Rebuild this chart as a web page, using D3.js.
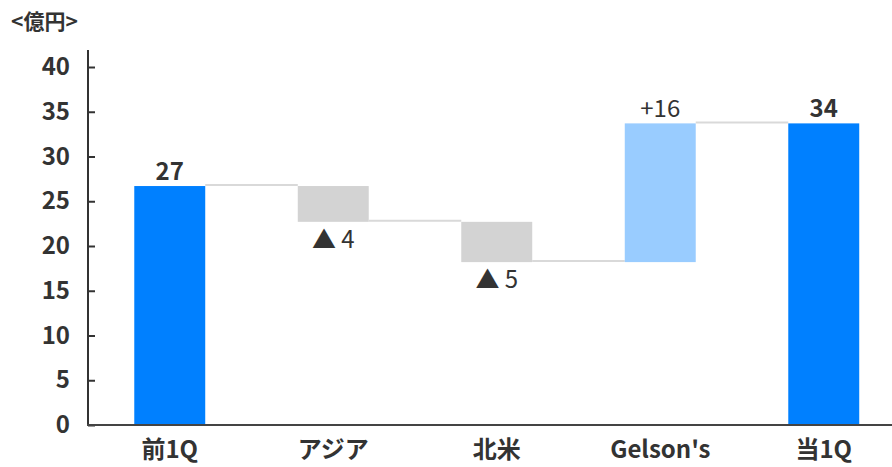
<!DOCTYPE html>
<html>
<head>
<meta charset="utf-8">
<script src="https://cdn.jsdelivr.net/npm/d3@7"></script>
<style>
  body { margin: 0; background: #fff; }
  svg text { font-family: "Noto Sans CJK JP", "Noto Sans", sans-serif; fill: #333; }
</style>
</head>
<body>
<div id="chart"></div>
<script>
// data
const categories = ["前1Q", "アジア", "北米", "Gelson's", "当1Q"];
const kinds = ["total", "delta", "delta", "delta", "total"];
const values = [26.7, -4.0, -4.5, 15.5, 33.7];
const valueLabels = ["27", "▲ 4", "▲ 5", "+16", "34"];
const yTicks = [0, 5, 10, 15, 20, 25, 30, 35, 40];

const width = 892;
const height = 467;

const colors = { total: "#0080ff", up: "#99ccff", down: "#d3d3d3" };

const svg = d3.select("#chart").append("svg")
  .attr("width", width)
  .attr("height", height);

// scales
const x = d3.scaleBand()
  .domain(categories)
  .range([88, 905.5])
  .paddingInner(0.566)
  .paddingOuter(0.283);

const y = d3.scaleLinear().domain([0, 40]).range([425, 67]);

// running totals -> start/end for each bar
let run = 0;
const bars = categories.map((c, i) => {
  let start, end;
  if (kinds[i] === "total") {
    start = 0; end = values[i]; run = values[i];
  } else {
    start = run; end = run + values[i]; run = end;
  }
  return { cat: c, kind: kinds[i], v: values[i], start, end, label: valueLabels[i] };
});

// connectors
for (let i = 0; i < bars.length - 1; i++) {
  const level = bars[i].end;
  svg.append("line")
    .attr("x1", x(bars[i].cat) + x.bandwidth())
    .attr("x2", x(bars[i + 1].cat))
    .attr("y1", y(level) - 1)
    .attr("y2", y(level) - 1)
    .attr("stroke", "#d9d9d9")
    .attr("stroke-width", 2);
}

// bars
svg.selectAll("rect.bar")
  .data(bars)
  .join("rect")
  .attr("class", "bar")
  .attr("x", d => x(d.cat))
  .attr("width", x.bandwidth())
  .attr("y", d => y(Math.max(d.start, d.end)))
  .attr("height", d => Math.abs(y(d.start) - y(d.end)))
  .attr("fill", d => d.kind === "total" ? colors.total : (d.v >= 0 ? colors.up : colors.down));

// value labels
svg.selectAll("text.val")
  .data(bars)
  .join("text")
  .attr("class", "val")
  .attr("x", d => x(d.cat) + x.bandwidth() / 2)
  .attr("y", d => d.v >= 0 ? y(Math.max(d.start, d.end)) - 6 : y(d.end) + 26)
  .attr("text-anchor", "middle")
  .style("font-size", "24px")
  .style("font-weight", d => d.kind === "total" ? "bold" : "normal")
  .text(d => d.label);

// y axis
const yAxis = d3.axisLeft(y)
  .tickValues(yTicks)
  .tickSizeInner(-7)
  .tickSizeOuter(0)
  .tickPadding(18);

const yAxisG = svg.append("g")
  .attr("transform", "translate(88,0)")
  .call(yAxis);
yAxisG.select(".domain").remove();
yAxisG.selectAll(".tick line").attr("stroke", "#333").attr("stroke-width", 2);
yAxisG.selectAll(".tick text")
  .style("font-size", "24px")
  .style("font-weight", "bold")
  .attr("fill", "#333");

svg.append("line")
  .attr("x1", 88).attr("x2", 88)
  .attr("y1", 50).attr("y2", 426)
  .attr("stroke", "#333").attr("stroke-width", 2);

// x axis
const xAxisG = svg.append("g")
  .attr("transform", "translate(0,425)")
  .call(d3.axisBottom(x).tickSize(0).tickPadding(16));
xAxisG.select(".domain").remove();
xAxisG.selectAll(".tick text")
  .style("font-size", "24px")
  .style("font-weight", "bold")
  .attr("fill", "#333");

svg.append("line")
  .attr("x1", 87).attr("x2", width)
  .attr("y1", 425).attr("y2", 425)
  .attr("stroke", "#444").attr("stroke-width", 2);

// unit label
svg.append("text")
  .attr("x", 11)
  .attr("y", 29)
  .style("font-size", "21px")
  .style("font-weight", "bold")
  .text("<億円>");
</script>
</body>
</html>
